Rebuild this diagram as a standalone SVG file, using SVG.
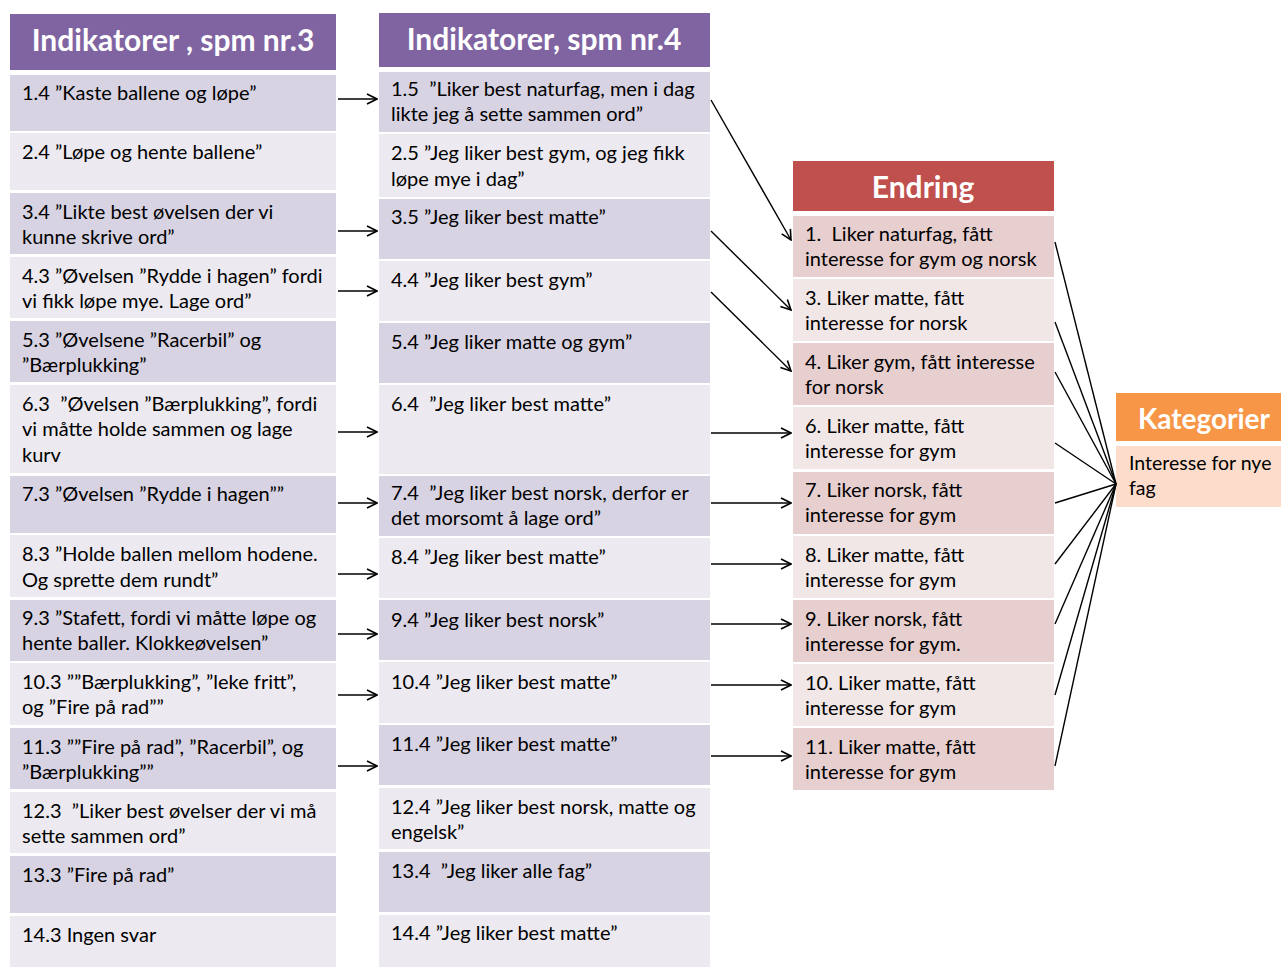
<svg xmlns="http://www.w3.org/2000/svg" width="1281" height="967" viewBox="0 0 1281 967">
  <style>
    .t { font-family: Lato, "Liberation Sans", sans-serif; font-size: 20px; fill: #000; white-space: pre; }
    .h { font-family: Lato, "Liberation Sans", sans-serif; font-size: 30px; font-weight: bold; fill: #fff; text-anchor: middle; }
    .ph { fill: #8064A2; }
    .pd { fill: #D7D3E2; }
    .pl { fill: #ECEAF0; }
    .rh { fill: #C0504D; }
    .rd { fill: #E7CFCF; }
    .rl { fill: #F2E7E7; }
    .oh { fill: #F79646; }
    .ob { fill: #FDDCCB; }
    .c { stroke: #000; stroke-width: 1.4; fill: none; }
    .a { marker-end: url(#open); }
  </style>
  <defs>
    <marker id="open" viewBox="0 0 12 12" refX="11" refY="6" markerWidth="12" markerHeight="12" markerUnits="userSpaceOnUse" orient="auto">
      <path d="M1,1 L11,6 L1,11" fill="none" stroke="#000" stroke-width="1.6"/>
    </marker>
  </defs>
  <rect width="1281" height="967" fill="#fff"/>

  <!-- Column 1: Indikatorer, spm nr.3 -->
  <g id="col3">
    <g id="h3"><rect class="ph" x="10" y="14" width="326" height="56"/><text class="h" x="173" y="51">Indikatorer , spm nr.3</text></g>
    <g id="n1_4"><rect class="pd" x="10" y="75" width="326" height="56"/><text class="t" x="22" y="100">1.4 ”Kaste ballene og løpe”</text></g>
    <g id="n2_4"><rect class="pl" x="10" y="133" width="326" height="57"/><text class="t" x="22" y="159">2.4 ”Løpe og hente ballene”</text></g>
    <g id="n3_4"><rect class="pd" x="10" y="193" width="326" height="61"/><text class="t" x="22" y="219">3.4 ”Likte best øvelsen der vi</text><text class="t" x="22" y="244">kunne skrive ord”</text></g>
    <g id="n4_3"><rect class="pl" x="10" y="257" width="326" height="61"/><text class="t" x="22" y="283">4.3 ”Øvelsen ”Rydde i hagen” fordi</text><text class="t" x="22" y="308">vi fikk løpe mye. Lage ord”</text></g>
    <g id="n5_3"><rect class="pd" x="10" y="321" width="326" height="61"/><text class="t" x="22" y="347">5.3 ”Øvelsene ”Racerbil” og</text><text class="t" x="22" y="372">”Bærplukking”</text></g>
    <g id="n6_3"><rect class="pl" x="10" y="385" width="326" height="88"/><text class="t" x="22" y="411">6.3  ”Øvelsen ”Bærplukking”, fordi</text><text class="t" x="22" y="436">vi måtte holde sammen og lage</text><text class="t" x="22" y="462">kurv</text></g>
    <g id="n7_3"><rect class="pd" x="10" y="476" width="326" height="57"/><text class="t" x="22" y="501">7.3 ”Øvelsen ”Rydde i hagen””</text></g>
    <g id="n8_3"><rect class="pl" x="10" y="535" width="326" height="62"/><text class="t" x="22" y="561">8.3 ”Holde ballen mellom hodene.</text><text class="t" x="22" y="587">Og sprette dem rundt”</text></g>
    <g id="n9_3"><rect class="pd" x="10" y="600" width="326" height="61"/><text class="t" x="22" y="625">9.3 ”Stafett, fordi vi måtte løpe og</text><text class="t" x="22" y="650">hente baller. Klokkeøvelsen”</text></g>
    <g id="n10_3"><rect class="pl" x="10" y="663" width="326" height="62"/><text class="t" x="22" y="689">10.3 ””Bærplukking”, ”leke fritt”,</text><text class="t" x="22" y="714">og ”Fire på rad””</text></g>
    <g id="n11_3"><rect class="pd" x="10" y="728" width="326" height="61"/><text class="t" x="22" y="754">11.3 ””Fire på rad”, ”Racerbil”, og</text><text class="t" x="22" y="779">”Bærplukking””</text></g>
    <g id="n12_3"><rect class="pl" x="10" y="792" width="326" height="61"/><text class="t" x="22" y="818">12.3  ”Liker best øvelser der vi må</text><text class="t" x="22" y="843">sette sammen ord”</text></g>
    <g id="n13_3"><rect class="pd" x="10" y="856" width="326" height="57"/><text class="t" x="22" y="882">13.3 ”Fire på rad”</text></g>
    <g id="n14_3"><rect class="pl" x="10" y="916" width="326" height="51"/><text class="t" x="22" y="942">14.3 Ingen svar</text></g>
  </g>

  <!-- Column 2: Indikatorer, spm nr.4 -->
  <g id="col4">
    <g id="h4"><rect class="ph" x="379" y="13" width="331" height="54"/><text class="h" x="544" y="50">Indikatorer, spm nr.4</text></g>
    <g id="n1_5"><rect class="pd" x="379" y="72" width="331" height="60"/><text class="t" x="391" y="96">1.5  ”Liker best naturfag, men i dag</text><text class="t" x="391" y="121">likte jeg å sette sammen ord”</text></g>
    <g id="n2_5"><rect class="pl" x="379" y="134" width="331" height="63"/><text class="t" x="391" y="160">2.5 ”Jeg liker best gym, og jeg fikk</text><text class="t" x="391" y="186">løpe mye i dag”</text></g>
    <g id="n3_5"><rect class="pd" x="379" y="199" width="331" height="60"/><text class="t" x="391" y="224">3.5 ”Jeg liker best matte”</text></g>
    <g id="n4_4"><rect class="pl" x="379" y="261" width="331" height="60"/><text class="t" x="391" y="287">4.4 ”Jeg liker best gym”</text></g>
    <g id="n5_4"><rect class="pd" x="379" y="323" width="331" height="60"/><text class="t" x="391" y="349">5.4 ”Jeg liker matte og gym”</text></g>
    <g id="n6_4"><rect class="pl" x="379" y="385" width="331" height="89"/><text class="t" x="391" y="411">6.4  ”Jeg liker best matte”</text></g>
    <g id="n7_4"><rect class="pd" x="379" y="476" width="331" height="60"/><text class="t" x="391" y="500">7.4  ”Jeg liker best norsk, derfor er</text><text class="t" x="391" y="525">det morsomt å lage ord”</text></g>
    <g id="n8_4"><rect class="pl" x="379" y="538" width="331" height="60"/><text class="t" x="391" y="564">8.4 ”Jeg liker best matte”</text></g>
    <g id="n9_4"><rect class="pd" x="379" y="600" width="331" height="60"/><text class="t" x="391" y="627">9.4 ”Jeg liker best norsk”</text></g>
    <g id="n10_4"><rect class="pl" x="379" y="662" width="331" height="61"/><text class="t" x="391" y="689">10.4 ”Jeg liker best matte”</text></g>
    <g id="n11_4"><rect class="pd" x="379" y="725" width="331" height="60"/><text class="t" x="391" y="751">11.4 ”Jeg liker best matte”</text></g>
    <g id="n12_4"><rect class="pl" x="379" y="788" width="331" height="61"/><text class="t" x="391" y="814">12.4 ”Jeg liker best norsk, matte og</text><text class="t" x="391" y="839">engelsk”</text></g>
    <g id="n13_4"><rect class="pd" x="379" y="852" width="331" height="60"/><text class="t" x="391" y="878">13.4  ”Jeg liker alle fag”</text></g>
    <g id="n14_4"><rect class="pl" x="379" y="915" width="331" height="52"/><text class="t" x="391" y="940">14.4 ”Jeg liker best matte”</text></g>
  </g>

  <!-- Column 3: Endring -->
  <g id="endring">
    <g id="he"><rect class="rh" x="793" y="161" width="261" height="50"/><text class="h" x="923" y="198">Endring</text></g>
    <g id="e1"><rect class="rd" x="793" y="216" width="261" height="61"/><text class="t" x="805" y="241">1.  Liker naturfag, fått</text><text class="t" x="805" y="266">interesse for gym og norsk</text></g>
    <g id="e3"><rect class="rl" x="793" y="279" width="261" height="62"/><text class="t" x="805" y="305">3. Liker matte, fått</text><text class="t" x="805" y="330">interesse for norsk</text></g>
    <g id="e4"><rect class="rd" x="793" y="343" width="261" height="62"/><text class="t" x="805" y="369">4. Liker gym, fått interesse</text><text class="t" x="805" y="394">for norsk</text></g>
    <g id="e6"><rect class="rl" x="793" y="407" width="261" height="62"/><text class="t" x="805" y="433">6. Liker matte, fått</text><text class="t" x="805" y="458">interesse for gym</text></g>
    <g id="e7"><rect class="rd" x="793" y="472" width="261" height="62"/><text class="t" x="805" y="497">7. Liker norsk, fått</text><text class="t" x="805" y="522">interesse for gym</text></g>
    <g id="e8"><rect class="rl" x="793" y="536" width="261" height="62"/><text class="t" x="805" y="562">8. Liker matte, fått</text><text class="t" x="805" y="587">interesse for gym</text></g>
    <g id="e9"><rect class="rd" x="793" y="600" width="261" height="62"/><text class="t" x="805" y="626">9. Liker norsk, fått</text><text class="t" x="805" y="651">interesse for gym.</text></g>
    <g id="e10"><rect class="rl" x="793" y="664" width="261" height="62"/><text class="t" x="805" y="690">10. Liker matte, fått</text><text class="t" x="805" y="715">interesse for gym</text></g>
    <g id="e11"><rect class="rd" x="793" y="728" width="261" height="62"/><text class="t" x="805" y="754">11. Liker matte, fått</text><text class="t" x="805" y="779">interesse for gym</text></g>
  </g>

  <!-- Column 4: Kategorier -->
  <g id="kategorier">
    <g id="hk"><rect class="oh" x="1116" y="393" width="165" height="48"/><text class="h" x="1204" y="429" style="font-size:28px">Kategorier</text></g>
    <g id="k1"><rect class="ob" x="1116" y="446" width="165" height="61"/><text class="t" x="1129" y="470" style="font-size:19.5px">Interesse for nye</text><text class="t" x="1129" y="495" style="font-size:19.5px">fag</text></g>
  </g>

  <!-- Connectors -->
  <g id="connectors" class="c">
    <!-- spm nr.3 to spm nr.4 -->
    <line class="a" x1="338" y1="99" x2="377" y2="99"/>
    <line class="a" x1="338" y1="231" x2="377" y2="231"/>
    <line class="a" x1="338" y1="291" x2="377" y2="291"/>
    <line class="a" x1="338" y1="432" x2="377" y2="432"/>
    <line class="a" x1="338" y1="503" x2="377" y2="503"/>
    <line class="a" x1="338" y1="574" x2="377" y2="574"/>
    <line class="a" x1="338" y1="634" x2="377" y2="634"/>
    <line class="a" x1="338" y1="695" x2="377" y2="695"/>
    <line class="a" x1="338" y1="766" x2="377" y2="766"/>
    <!-- spm nr.4 to Endring -->
    <line class="a" x1="711" y1="100" x2="791" y2="240"/>
    <line class="a" x1="711" y1="231" x2="791" y2="310"/>
    <line class="a" x1="711" y1="292" x2="791" y2="371"/>
    <line class="a" x1="711" y1="433" x2="791" y2="433"/>
    <line class="a" x1="711" y1="503" x2="791" y2="503"/>
    <line class="a" x1="711" y1="564" x2="791" y2="564"/>
    <line class="a" x1="711" y1="624" x2="791" y2="624"/>
    <line class="a" x1="711" y1="685" x2="791" y2="685"/>
    <line class="a" x1="711" y1="756" x2="791" y2="756"/>
    <!-- Endring to Kategorier -->
    <line x1="1055" y1="242" x2="1116" y2="484"/>
    <line x1="1055" y1="322" x2="1116" y2="484"/>
    <line x1="1055" y1="372" x2="1116" y2="484"/>
    <line x1="1055" y1="443" x2="1116" y2="484"/>
    <line x1="1055" y1="503" x2="1116" y2="484"/>
    <line x1="1055" y1="564" x2="1116" y2="484"/>
    <line x1="1055" y1="624" x2="1116" y2="484"/>
    <line x1="1055" y1="695" x2="1116" y2="484"/>
    <line x1="1055" y1="766" x2="1116" y2="484"/>
  </g>
</svg>
